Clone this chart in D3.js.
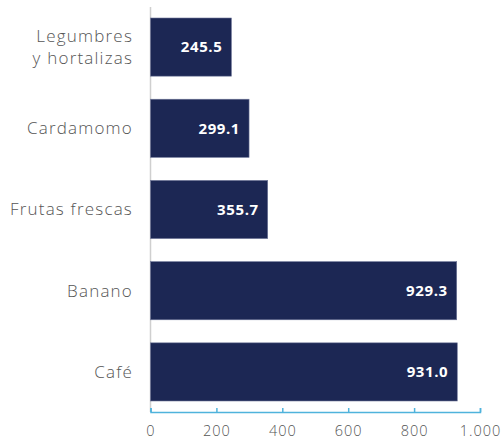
<!DOCTYPE html>
<html><head><meta charset="utf-8">
<script src="https://cdn.jsdelivr.net/npm/d3@7"></script>
<style>body{margin:0;background:#fff}</style>
</head><body><svg id="c" width="503" height="440"></svg>
<script>
const categories = [["Legumbres","y hortalizas"],["Cardamomo"],["Frutas frescas"],["Banano"],["Café"]];
const values = [245.5, 299.1, 355.7, 929.3, 931.0];
const valueLabels = ["245.5","299.1","355.7","929.3","931.0"];
const ticks = [0,200,400,600,800,1000];
const tickLabels = ["0","200","400","600","800","1.000"];

const svg = d3.select("#c");
const x = d3.scaleLinear().domain([0,1000]).range([150.5,480]);
const y = d3.scaleBand().domain(d3.range(values.length)).range([18,401]).paddingInner(0.284).paddingOuter(0);

svg.append("line").attr("x1",150.5).attr("x2",150.5).attr("y1",7).attr("y2",412)
  .attr("stroke","#cfcfcf").attr("stroke-width",1.5);

svg.selectAll("rect.bar").data(values).join("rect").attr("class","bar")
  .attr("x",x(0)).attr("y",(d,i)=>y(i)).attr("width",d=>x(d)-x(0)).attr("height",y.bandwidth())
  .attr("fill","#1c2754").attr("stroke","#6e7698").attr("stroke-width",0.6);

svg.selectAll("text.val").data(values).join("text").attr("class","val")
  .attr("x",d=>x(d)-9).attr("y",(d,i)=>y(i)+y.bandwidth()/2).attr("dy","0.36em")
  .attr("text-anchor","end").attr("fill","#fff").attr("font-family","'Open Sans', sans-serif")
  .attr("font-weight",700).attr("font-size",15).attr("letter-spacing","0.6px").text((d,i)=>valueLabels[i]);

const cat = svg.selectAll("text.cat").data(categories).join("text").attr("class","cat")
  .attr("text-anchor","end").attr("fill","#555").attr("font-family","'Open Sans', sans-serif")
  .attr("font-weight",300).attr("font-size",17).attr("letter-spacing","1.2px");
cat.each(function(lines,i){
  const t = d3.select(this);
  const cy = y(i)+y.bandwidth()/2;
  const lh = 22;
  lines.forEach((l,k)=>{
    t.append("tspan").attr("x",133).attr("y",cy + (k-(lines.length-1)/2)*lh).attr("dy","0.35em").text(l);
  });
});

const axis = d3.axisBottom(x).tickValues(ticks).tickFormat((d,i)=>tickLabels[i]).tickSize(-4).tickPadding(18);
const g = svg.append("g").attr("transform","translate(0,412)").call(axis);
g.select(".domain").attr("stroke","#4fb3dc").attr("stroke-width",1.5);
g.selectAll(".tick line").attr("stroke","#4fb3dc").attr("stroke-width",1.5);
g.selectAll(".tick text").attr("fill","#555").attr("font-family","'Open Sans', sans-serif")
  .attr("font-weight",300).attr("font-size",14.5).attr("letter-spacing","1px")
  .attr("y",23.5).attr("dy","0");
</script></body></html>
